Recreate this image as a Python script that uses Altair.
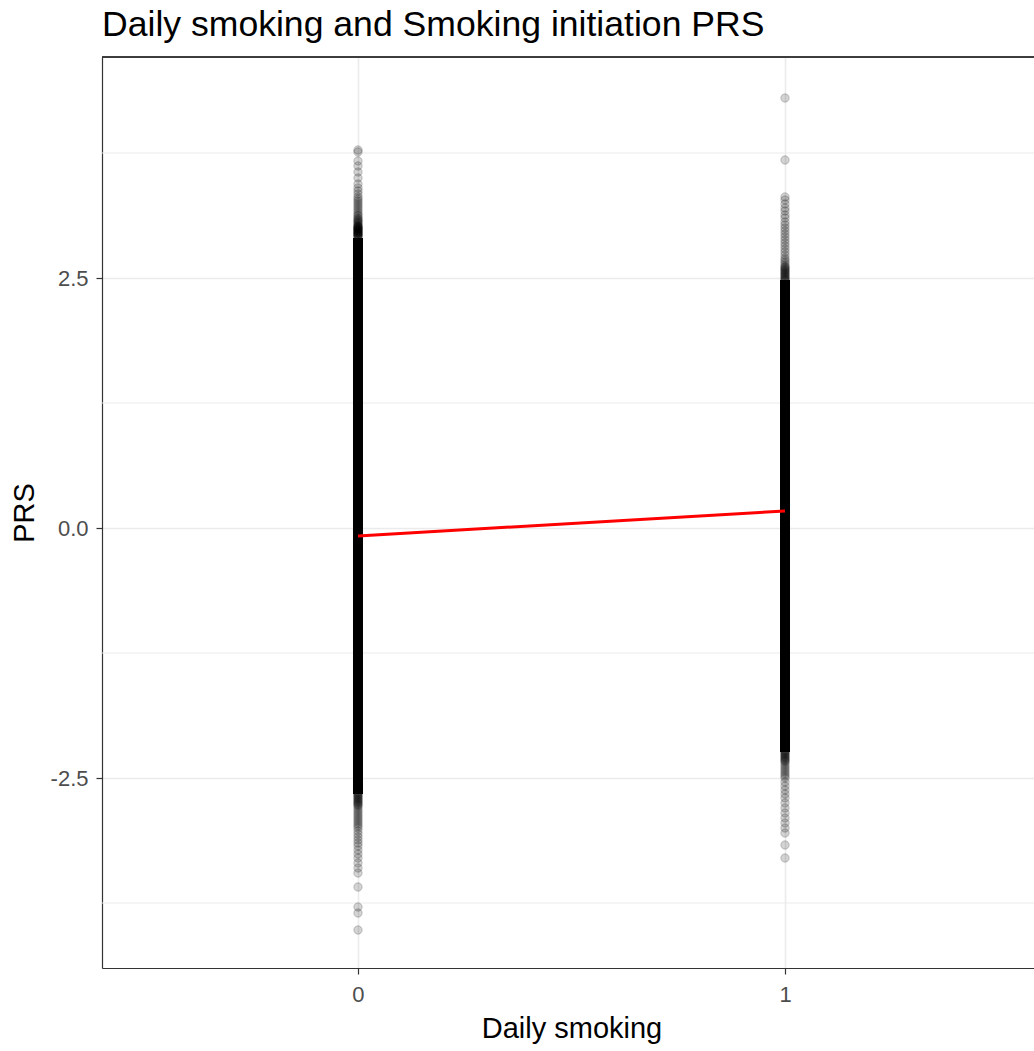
import altair as alt
import pandas as pd

# ---- data ----
title_text = "Daily smoking and Smoking initiation PRS"
x_ticks = [0, 1]
y_ticks = [-2.5, 0.0, 2.5]
y_minor = [-3.75, -1.25, 1.25, 3.75]

# dense (solid black) core of each column
core_x = [0, 1]
core_lo = [-2.66, -2.24]
core_hi = [2.90, 2.48]

# individually visible points at the ends of each column
tail0 = [3.78, 3.76, 3.67, 3.62, 3.56, 3.50, 3.44, 3.40, 3.37, 3.34, 3.31, 3.29,
         3.27, 3.25, 3.23, 3.21, 3.19, 3.17, 3.15, 3.13, 3.12, 3.10, 3.09, 3.08,
         3.07, 3.06, 3.05, 3.04, 3.03, 3.02, 3.015, 3.01, 3.005, 3.00, 2.995,
         2.99, 2.985, 2.98, 2.975, 2.97, 2.965, 2.96, 2.955, 2.95, 2.945, 2.94,
         2.935, 2.93, 2.925, 2.92, 2.91, 2.90,
         -2.64, -2.65, -2.66, -2.67, -2.68, -2.69, -2.70, -2.71, -2.72, -2.73,
         -2.74, -2.75, -2.76, -2.77, -2.78, -2.80, -2.82, -2.84,
         -2.86, -2.88, -2.90, -2.92, -2.94, -2.96, -2.98, -3.00, -3.03, -3.06,
         -3.09, -3.12, -3.15, -3.18, -3.22, -3.26, -3.30, -3.35, -3.40, -3.45,
         -3.59, -3.79, -3.85, -4.02]
tail1 = [4.30, 3.68, 3.31, 3.28, 3.24, 3.20, 3.17, 3.13, 3.10, 3.06, 3.03, 3.00,
         2.97, 2.94, 2.91, 2.88, 2.85, 2.82, 2.79, 2.76, 2.73, 2.70, 2.68, 2.66,
         2.64, 2.62, 2.61, 2.60, 2.59, 2.58, 2.57, 2.56, 2.55, 2.54, 2.53, 2.52,
         2.51, 2.50, 2.49, 2.48, 2.47,
         -2.22, -2.23, -2.24, -2.25, -2.26, -2.27, -2.28, -2.29, -2.30, -2.31,
         -2.32, -2.33, -2.34, -2.36, -2.38, -2.40, -2.42,
         -2.44, -2.46, -2.48, -2.50, -2.54, -2.58, -2.62, -2.66, -2.70, -2.75,
         -2.80, -2.85, -2.90, -2.95, -3.00, -3.05, -3.17, -3.30]

# fitted regression line
fit_x = [0, 1]
fit_y = [-0.08, 0.17]

# ---- tables ----
tails = pd.DataFrame({"x": [0] * len(tail0) + [1] * len(tail1), "y": tail0 + tail1})
core = pd.DataFrame({"x": core_x, "lo": core_lo, "hi": core_hi})
fit = pd.DataFrame({"x": fit_x, "y": fit_y})
minor = pd.DataFrame({"y": y_minor})

FONT = "Liberation Sans"
W, H = 932, 911
xscale = alt.Scale(domain=[-0.5995, 1.5831], nice=False, zero=False)
yscale = alt.Scale(domain=[-4.40, 4.71], nice=False, zero=False)

xaxis = alt.Axis(values=x_ticks, format="d", title="Daily smoking",
                 grid=True, gridColor="#ebebeb", gridWidth=1.6,
                 domain=True, domainColor="#333333", domainWidth=1.2,
                 ticks=True, tickColor="#333333", tickSize=6, tickWidth=1.2,
                 labelFont=FONT, labelFontSize=22, labelColor="#4d4d4d", labelPadding=10,
                 titleFont=FONT, titleFontSize=29, titleFontWeight="normal", titleColor="black",
                 titleX=469.5, titleY=69, titleBaseline="alphabetic", titleAlign="center")
yaxis = alt.Axis(values=y_ticks, title="PRS",
                 labelExpr="datum.value < 0 ? '-' + format(-datum.value, '.1f') : format(datum.value, '.1f')",
                 grid=True, gridColor="#ebebeb", gridWidth=1.6,
                 domain=True, domainColor="#333333", domainWidth=1.2,
                 ticks=True, tickColor="#333333", tickSize=6, tickWidth=1.2,
                 labelFont=FONT, labelFontSize=22, labelColor="#4d4d4d", labelPadding=8,
                 titleFont=FONT, titleFontSize=29, titleFontWeight="normal", titleColor="black",
                 titleX=-69, titleY=455.5, titleAngle=270, titleBaseline="alphabetic",
                 titleAlign="center")

grid_minor = alt.Chart(minor).mark_rule(color="#ebebeb", strokeWidth=1).encode(
    y=alt.Y("y:Q", scale=yscale, axis=yaxis)
)

frame_top = alt.Chart(minor).mark_rule(color="#333333", strokeWidth=1.2).encode(
    x=alt.value(0), x2=alt.value(W), y=alt.value(0)
)

core_layer = alt.Chart(core).mark_rule(color="black", strokeWidth=10).encode(
    x=alt.X("x:Q", scale=xscale, axis=xaxis),
    y=alt.Y("lo:Q", scale=yscale, axis=yaxis),
    y2="hi:Q",
)

points = alt.Chart(tails).mark_circle(
    size=70, fill="black", fillOpacity=0.17, stroke="black", strokeOpacity=0.2, strokeWidth=1
).encode(
    x=alt.X("x:Q", scale=xscale, axis=xaxis),
    y=alt.Y("y:Q", scale=yscale, axis=yaxis),
)

fit_line = alt.Chart(fit).mark_line(color="#ff0000", strokeWidth=3).encode(
    x=alt.X("x:Q", scale=xscale, axis=xaxis),
    y=alt.Y("y:Q", scale=yscale, axis=yaxis),
)

chart = alt.layer(grid_minor, core_layer, points, fit_line, frame_top).properties(
    width=W, height=H,
    title=alt.TitleParams(title_text, anchor="start", frame="group", font=FONT,
                          fontSize=35.6, fontWeight="normal", color="black", offset=13),
    autosize=alt.AutoSizeParams(type="none"),
    padding={"left": 102, "top": 57, "right": 0, "bottom": 83},
).configure_view(stroke=None).configure(background="white")

chart.save("out.html", embed_options={"renderer": "svg", "actions": False})
